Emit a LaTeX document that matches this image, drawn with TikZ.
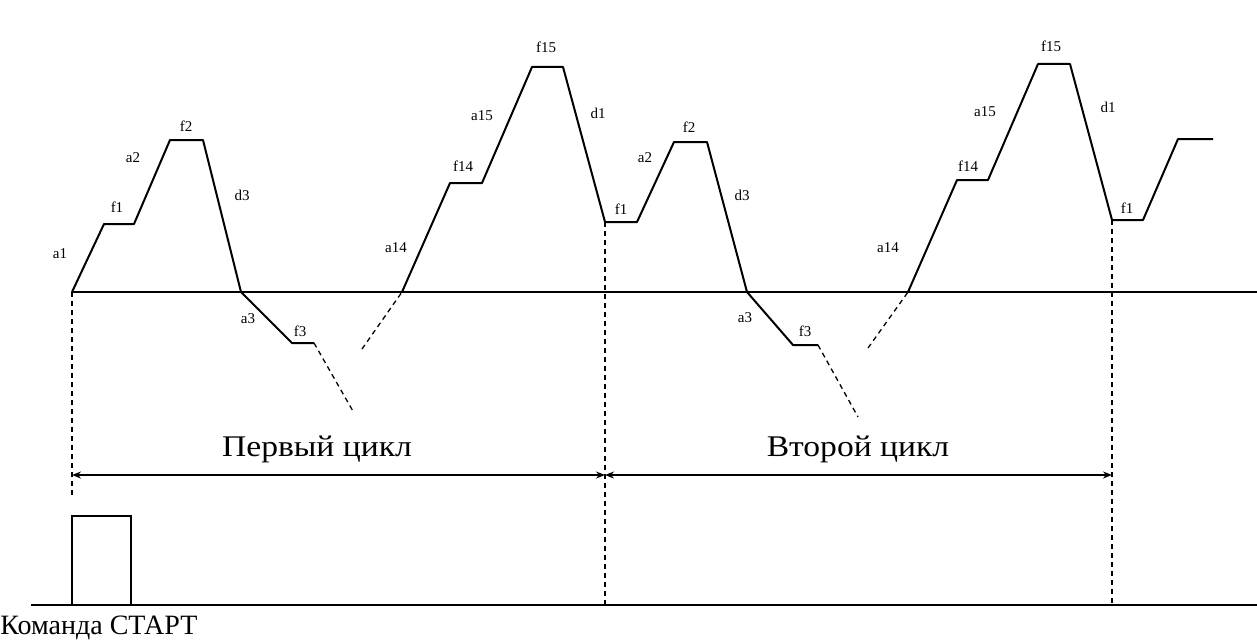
\documentclass[tikz,border=0pt]{standalone}
\usepackage{fontspec}
\setmainfont{Liberation Serif}
\usetikzlibrary{arrows.meta}
\begin{document}
\begin{tikzpicture}[x=0.5pt,y=-0.5pt,
  prof/.style={line width=1pt, line join=round},
  dsh/.style={line width=0.65pt, dash pattern=on 2.5pt off 2pt},
  base/.style={line width=1pt},
  dim/.style={line width=0.8pt, {Stealth[length=4.5pt,width=3.5pt]}-{Stealth[length=4.5pt,width=3.5pt]}},
  lbl/.style={font=\fontsize{7.5}{8}\selectfont, inner sep=0pt},
  ttl/.style={font=\fontsize{15}{17}\selectfont, inner sep=0pt, xscale=1.12}]
\path[use as bounding box] (0,0) rectangle (1257,642);
% baselines
\coordinate (b0) at (72,292);
\coordinate (bE) at (1257,292);
\coordinate (g0) at (31,605);
\coordinate (gE) at (1257,605);
\draw[base] (b0) -- (bE);
\draw[base] (g0) -- (gE);
% profile, cycle 1
\draw[prof] (b0) -- (104,224) -- (134,224) -- (170,140) -- (203,140) -- (241,292) -- (292,343) -- (314,343) coordinate (p1e);
\draw[dsh] (p1e) -- (354,413);
\coordinate (p2s) at (402,292);
\draw[dsh] (362,349) -- (p2s);
\coordinate (c1) at (605,222);
\draw[prof] (p2s) -- (450,183) -- (482,183) -- (532,67) -- (563,67) -- (c1) -- (637,222) -- (674,142) -- (707,142) -- (747,292) -- (793,345) -- (818,345) coordinate (p3e);
\draw[dsh] (p3e) -- (858,417);
\coordinate (p4s) at (908,292);
\draw[dsh] (868,348) -- (p4s);
\coordinate (c2) at (1112,220);
\draw[prof] (p4s) -- (957,180) -- (988,180) -- (1038,64) -- (1070,64) -- (c2) -- (1143,220) -- (1178,139) -- (1213,139);
% dashed verticals
\draw[dsh] (b0) -- (72,497);
\draw[dsh] (c1) -- (605,605);
\draw[dsh] (c2) -- (1112,605);
% start pulse
\draw[line width=0.8pt] (72,605) -- (72,516) -- (131,516) -- (131,605);
% dimension lines
\coordinate (d0) at (72,475);
\coordinate (d1) at (605,475);
\coordinate (d2) at (1112,475);
\draw[dim] (d0) -- (d1);
\draw[dim] (d1) -- (d2);
\node[ttl] (t1) at (317,449) {Первый цикл};
\node[ttl] (t2) at (858,449) {Второй цикл};
\node[font=\fontsize{14}{16}\selectfont, inner sep=0pt, anchor=west] (t3) at (0,628) {Команда СТАРТ};
% labels
\node[lbl] (l1) at (60,254) {a1};
\node[lbl] (l2) at (117,207) {f1};
\node[lbl] (l3) at (133,158) {a2};
\node[lbl] (l4) at (186,126) {f2};
\node[lbl] (l5) at (242,195) {d3};
\node[lbl] (l6) at (248,319) {a3};
\node[lbl] (l7) at (300,331) {f3};
\node[lbl] (l8) at (396,248) {a14};
\node[lbl] (l9) at (463,166) {f14};
\node[lbl] (l10) at (482,116) {a15};
\node[lbl] (l11) at (546,47) {f15};
\node[lbl] (l12) at (598,113) {d1};
\node[lbl] (l13) at (621,209) {f1};
\node[lbl] (l14) at (645,158) {a2};
\node[lbl] (l15) at (689,127) {f2};
\node[lbl] (l16) at (742,195) {d3};
\node[lbl] (l17) at (745,318) {a3};
\node[lbl] (l18) at (805,331) {f3};
\node[lbl] (l19) at (888,248) {a14};
\node[lbl] (l20) at (968,166) {f14};
\node[lbl] (l21) at (985,112) {a15};
\node[lbl] (l22) at (1051,46) {f15};
\node[lbl] (l23) at (1108,107) {d1};
\node[lbl] (l24) at (1127,208) {f1};
\end{tikzpicture}
\end{document}
